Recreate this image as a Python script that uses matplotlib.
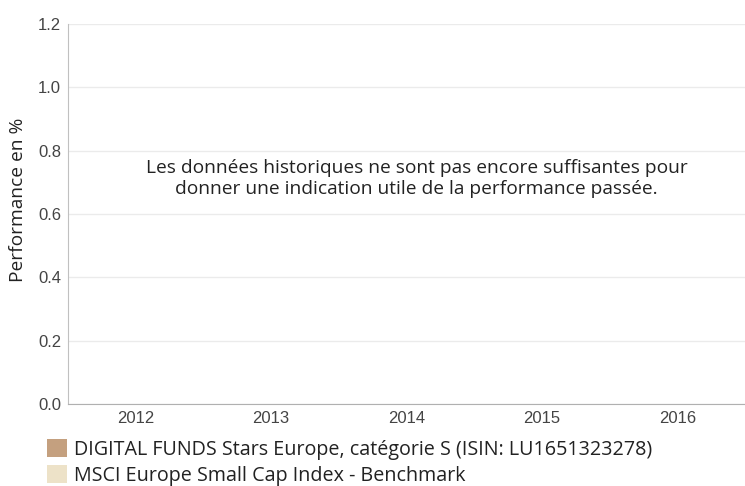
import numpy as np
import matplotlib
matplotlib.use("Agg")
import matplotlib.pyplot as plt
from matplotlib.patches import Patch

years = ["2012", "2013", "2014", "2015", "2016"]
fund_values = [np.nan, np.nan, np.nan, np.nan, np.nan]
bench_values = [np.nan, np.nan, np.nan, np.nan, np.nan]
series_names = ["DIGITAL FUNDS Stars Europe, catégorie S (ISIN: LU1651323278)",
                "MSCI Europe Small Cap Index - Benchmark"]
series_colors = ["#c4a07f", "#ede2c8"]
y_ticks = [0.0, 0.2, 0.4, 0.6, 0.8, 1.0, 1.2]
message = ("Les données historiques ne sont pas encore suffisantes pour\n"
           "donner une indication utile de la performance passée.")

W, H = 745, 486
fig = plt.figure(figsize=(W / 100, H / 100), dpi=100)
ax = fig.add_axes([68 / W, 1 - 404 / H, (745 - 68) / W, (404 - 24) / H])

x = np.arange(len(years))
ax.bar(x - 0.2, fund_values, width=0.35, color=series_colors[0])
ax.bar(x + 0.2, bench_values, width=0.35, color=series_colors[1])
ax.set_xlim(-0.5, len(years) - 0.5)
ax.set_ylim(0, 1.2)
ax.set_yticks(y_ticks)
ax.set_yticklabels([f"{v:.1f}" for v in y_ticks], fontfamily="Liberation Sans",
                   fontsize=12, color="#444444")
ax.set_xticks(x)
ax.set_xticklabels(years, fontfamily="Liberation Sans", fontsize=12, color="#444444")
ax.tick_params(axis="both", length=0)
ax.tick_params(axis="y", pad=5)
ax.tick_params(axis="x", pad=5)
ax.grid(axis="y", color="#ebebeb", linewidth=1)
ax.set_axisbelow(True)
for s in ["top", "right"]:
    ax.spines[s].set_visible(False)
ax.spines["left"].set_color("#c0c0c0")
ax.spines["bottom"].set_color("#b0b0b0")
ax.set_ylabel("Performance en %", fontfamily="Open Sans", fontsize=13.8, color="#222222")
ax.yaxis.set_label_coords(-41 / 677, (404 - 200) / 380)

ax.text(0.515, 0.594, message, transform=ax.transAxes, ha="center", va="center",
        fontfamily="Open Sans", fontsize=13.8, color="#222222", linespacing=1.2)

handles = [Patch(facecolor=c, edgecolor="none") for c in series_colors]
fig.legend(handles, series_names, loc="upper left", bbox_to_anchor=(47 / W, 1 - 439 / H),
           frameon=False, prop={"family": "Open Sans", "size": 14.2}, handlelength=1.0,
           handleheight=1.0, handletextpad=0.35, labelspacing=0.3, borderaxespad=0,
           borderpad=0, labelcolor="#222222")

fig.savefig("out.png", dpi=100)
